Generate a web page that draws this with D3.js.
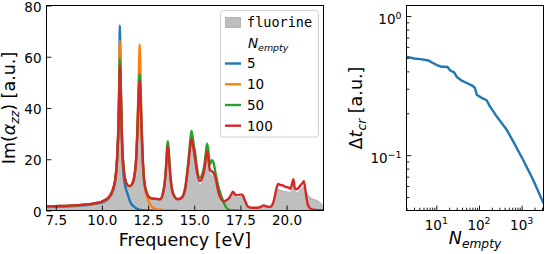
<!DOCTYPE html>
<html>
<head>
<meta charset="utf-8">
<script src="https://cdnjs.cloudflare.com/ajax/libs/d3/7.8.5/d3.min.js"></script>
<style>
  body { margin: 0; background: #fff; }
  svg { display: block; font-family: "DejaVu Sans", sans-serif; }
</style>
</head>
<body>
<div id="chart"></div>
<script>
// Frequency grid (eV) shared by the spectra
const freq = [
  7.0, 7.5, 8.0, 8.5, 9.0, 9.5, 9.8, 10.0, 10.2, 10.4,
  10.55, 10.65, 10.75, 10.83, 10.9, 10.94, 10.97, 11.0, 11.04, 11.1,
  11.18, 11.28, 11.4, 11.52, 11.65, 11.75, 11.85, 11.93, 11.99, 12.03,
  12.05, 12.08, 12.13, 12.2, 12.3, 12.45, 12.6, 12.8, 13.0, 13.15,
  13.3, 13.4, 13.47, 13.53, 13.57, 13.62, 13.7, 13.8, 13.95, 14.1,
  14.3, 14.5, 14.65, 14.75, 14.81, 14.85, 14.9, 14.97, 15.05, 15.15,
  15.3, 15.45, 15.57, 15.65, 15.7, 15.76, 15.85, 15.95, 16.05, 16.15,
  16.3, 16.45, 16.6, 16.75, 16.9, 17.0, 17.1, 17.2, 17.3, 17.45,
  17.6, 17.75, 17.9, 18.1, 18.4, 18.6, 18.75, 18.9, 19.1, 19.3,
  19.45, 19.55, 19.65, 19.8, 19.95, 20.1, 20.2, 20.3, 20.37, 20.45,
  20.55, 20.65, 20.75, 20.85, 20.93, 21.0, 21.08, 21.15, 21.25, 21.4,
  21.6, 21.8, 22.0
];

// Im(alpha_zz) reference spectrum (grey fill)
const fluorine = [
  1.5, 1.6, 1.7, 1.9, 2.2, 2.6, 3.0, 3.4, 4.1, 5.3,
  7.1, 9.3, 13.2, 20.5, 32, 44, 55.5, 52, 40, 24.5,
  15.5, 11.2, 9.5, 9.2, 10.2, 12.6, 19, 31, 43, 49,
  49.5, 46, 35, 21.5, 10.6, 6.2, 4.7, 4.3, 4.2, 4.1,
  6.1, 10, 15.5, 22, 24.2, 21, 13.4, 7.6, 4.9, 4.1,
  4.4, 7.3, 15, 21.5, 25.5, 26.3, 25, 22.3, 18.5, 13.5,
  10, 11.5, 15.5, 20, 21.6, 19, 14.3, 13.8, 13, 11.3,
  6.5, 3.8, 3.0, 3.2, 4.0, 5.0, 6.3, 5.6, 5.0, 5.3,
  5.4, 3.2, 1.2, 0.8, 0.8, 1.0, 1.7, 1.3, 1.2, 3.0,
  6.6, 8.3, 8.0, 7.6, 7.4, 7.2, 7.0, 8.5, 10.0, 7.8,
  6.8, 7.2, 8.3, 8.8, 9.2, 7.8, 6.8, 6.2, 5.3, 4.6,
  4.1, 3.2, 1.8
];

// N_empty = 5, 10, 50 end where they fall to zero
const n5 = [
  1.3, 1.4, 1.5, 1.7, 2.0, 2.4, 2.8, 3.1, 3.8, 5.0,
  6.8, 9.0, 13, 21, 35, 52, 72.2, 62, 42, 24,
  13.5, 9.0, 6.3, 3.6, 2.0, 1.5, 0.9, 0.6, 0.4, 0.3,
  0.3, 0.2, 0.2, 0.1, 0.1, 0, 0, 0, 0, 0
];
const n10 = [
  1.5, 1.6, 1.7, 1.9, 2.2, 2.6, 3.0, 3.4, 4.1, 5.3,
  7.2, 9.4, 13.3, 21, 34, 48, 66.3, 58, 42, 25,
  16, 11.5, 9.8, 9.5, 10.5, 13, 19.5, 34, 50, 62,
  64.8, 56, 38, 22, 10.5, 5.2, 2.6, 0.9, 0.4, 0.3,
  0.2, 0.1, 0.1, 0, 0, 0, 0, 0, 0, 0
];
const n50 = [
  1.6, 1.7, 1.8, 2.0, 2.3, 2.7, 3.1, 3.5, 4.2, 5.4,
  7.3, 9.5, 13.5, 21, 33, 46, 59.2, 54, 41, 25,
  16, 11.5, 9.8, 9.5, 10.5, 13, 19.5, 33, 46, 52.5,
  53.3, 49, 37, 22, 11, 6.5, 5.0, 4.6, 4.5, 4.4,
  6.6, 11, 17, 24.5, 27.0, 23.5, 14.5, 8.2, 5.3, 4.5,
  5.0, 8.5, 17, 24.5, 29, 31.0, 29.5, 25.8, 22.5, 16.5,
  12.8, 14.5, 19, 24, 26.1, 23.5, 18.0, 19.6, 18.5, 14.7,
  9.5, 6.0, 3.0, 1.0, 0.3, 0.1, 0, 0, 0, 0
];
const n100 = [
  1.6, 1.7, 1.8, 2.0, 2.3, 2.7, 3.1, 3.5, 4.2, 5.4,
  7.3, 9.5, 13.5, 21, 33, 45, 56.7, 53, 41, 25,
  16, 11.5, 9.8, 9.5, 10.5, 13, 19.5, 32, 44, 50,
  50.5, 47, 36, 22, 11, 6.5, 5.0, 4.6, 4.5, 4.4,
  6.5, 10.5, 16, 23, 25.1, 22, 14, 8, 5.2, 4.4,
  4.8, 8, 16, 23, 27, 27.8, 26.5, 23.8, 20, 15,
  11.4, 13, 17, 21.5, 23.1, 20.5, 15.8, 15.3, 14.6, 12.8,
  7.5, 4.5, 3.6, 4.0, 5.0, 6.2, 7.3, 6.4, 5.9, 6.2,
  6.2, 3.8, 1.6, 1.1, 1.1, 1.4, 2.0, 1.6, 1.4, 3.6,
  8.5, 10.4, 10.0, 9.8, 9.2, 9.0, 8.5, 10.5, 12.2, 8.6,
  8.3, 8.8, 9.8, 10.6, 11.4, 9.0, 5.0, 2.3, 1.0, 0.4,
  0.2, 0.1, 0.1
];

const nEmptyLabels = ["5", "10", "50", "100"];
const seriesColors = ["#1f77b4", "#ff7f0e", "#2ca02c", "#d62728"];
const freqTicks = [7.5, 10, 12.5, 15, 17.5, 20];
const imTicks = [0, 20, 40, 60, 80];

// Right panel: critical time step vs number of empty states
const nEmpty = [2, 3, 4.2, 6.6, 7.9, 10.4, 12.4, 18.3, 21.2, 26.2, 30.3, 39.6, 51.7, 71.3,
  80.7, 88.3, 115, 151, 180, 215, 258, 337, 441, 628, 1070, 1830, 3250];
const dtCr = [0.511, 0.495, 0.490, 0.479, 0.463, 0.444, 0.434, 0.430, 0.406, 0.393, 0.364,
  0.343, 0.330, 0.315, 0.303, 0.272, 0.258, 0.248, 0.224, 0.207, 0.190, 0.171, 0.153,
  0.126, 0.093, 0.067, 0.045];
const nMajor = [10, 100, 1000];
const nMinor = [2, 3, 4, 5, 6, 7, 8, 9, 20, 30, 40, 50, 60, 70, 80, 90,
  200, 300, 400, 500, 600, 700, 800, 900, 2000, 3000];
const dtMajor = [0.1, 1];
const dtMinor = [0.05, 0.06, 0.07, 0.08, 0.09, 0.2, 0.3, 0.4, 0.5, 0.6, 0.7, 0.8, 0.9];

const TICK = 13.5, LABEL = 17.5, LW = 2.4;
const svg = d3.select("#chart").append("svg").attr("width", 545).attr("height", 254);

function styleAxis(g) {
  g.select(".domain").remove();
  g.attr("font-size", TICK).attr("font-family", "DejaVu Sans");
  g.selectAll("line").attr("stroke", "#000").attr("stroke-width", 0.9);
  g.selectAll("text").attr("fill", "#000");
}

// ---------- left panel ----------
function drawSpectra() {
  const box = { x0: 46.5, x1: 323.5, y0: 5.5, y1: 210.5 };
  const x = d3.scaleLinear().domain([7, 22]).range([box.x0, box.x1]);
  const y = d3.scaleLinear().domain([0, 80]).range([box.y1, box.y0]);

  svg.append("clipPath").attr("id", "clipL").append("rect")
    .attr("x", box.x0).attr("y", box.y0)
    .attr("width", box.x1 - box.x0).attr("height", box.y1 - box.y0);
  const g = svg.append("g").attr("clip-path", "url(#clipL)");

  const area = d3.area()
    .x((d, i) => x(freq[i]))
    .y0(y(0))
    .y1(d => y(d))
    .curve(d3.curveMonotoneX);
  g.append("path").datum(fluorine)
    .attr("d", area)
    .attr("fill", "#bfbfbf")
    .attr("stroke", "#a9a9a9")
    .attr("stroke-width", 0.8);

  const line = d3.line()
    .x((d, i) => x(freq[i]))
    .y(d => y(d))
    .curve(d3.curveMonotoneX);
  [n5, n10, n50, n100].forEach((vals, k) => {
    g.append("path").datum(vals)
      .attr("d", line)
      .attr("fill", "none")
      .attr("stroke", seriesColors[k])
      .attr("stroke-width", LW)
      .attr("stroke-linejoin", "round");
  });

  svg.append("g")
    .attr("transform", `translate(0,${box.y1})`)
    .call(d3.axisBottom(x).tickValues(freqTicks).tickFormat(d3.format(".1f"))
      .tickSizeInner(-4.9).tickSizeOuter(0).tickPadding(5))
    .call(styleAxis);

  svg.append("g")
    .attr("transform", `translate(${box.x0},0)`)
    .call(d3.axisLeft(y).tickValues(imTicks)
      .tickSizeInner(-4.9).tickSizeOuter(0).tickPadding(5))
    .call(styleAxis)
    .selectAll("text").attr("dy", "0.42em");

  svg.append("rect")
    .attr("x", box.x0).attr("y", box.y0)
    .attr("width", box.x1 - box.x0).attr("height", box.y1 - box.y0)
    .attr("fill", "none").attr("stroke", "#000").attr("stroke-width", 1);

  // axis titles
  svg.append("text")
    .attr("x", (box.x0 + box.x1) / 2).attr("y", 246)
    .attr("text-anchor", "middle").attr("font-size", LABEL)
    .text("Frequency [eV]");

  const yl = svg.append("text")
    .attr("transform", `translate(15,${(box.y0 + box.y1) / 2}) rotate(-90)`)
    .attr("text-anchor", "middle").attr("font-size", LABEL);
  yl.append("tspan").text("Im(");
  yl.append("tspan").attr("font-style", "italic").text("α");
  yl.append("tspan").attr("font-style", "italic").attr("font-size", LABEL * 0.7)
    .attr("dy", 3.5).text("zz");
  yl.append("tspan").attr("dy", -3.5).text(") [a.u.]");

  // legend
  const lg = svg.append("g").attr("font-size", TICK);
  lg.append("rect")
    .attr("x", 220.5).attr("y", 10.5).attr("width", 98).attr("height", 126.5)
    .attr("rx", 3).attr("fill", "#fff").attr("fill-opacity", 0.8)
    .attr("stroke", "#d0d0d0").attr("stroke-width", 1);
  lg.append("rect")
    .attr("x", 225.5).attr("y", 17.5).attr("width", 15).attr("height", 10)
    .attr("fill", "#bfbfbf").attr("stroke", "#a9a9a9").attr("stroke-width", 0.8);
  lg.append("text")
    .attr("x", 247).attr("y", 22).attr("dy", "0.36em")
    .attr("font-family", "DejaVu Sans Mono")
    .text("fluorine");
  const nt = lg.append("text").attr("x", 248).attr("y", 48).attr("font-style", "italic");
  nt.append("tspan").text("N");
  nt.append("tspan").attr("font-size", TICK * 0.7).attr("dy", 2.5).text("empty");

  const rowY = [63.5, 84.3, 105, 125.7];
  nEmptyLabels.forEach((lab, k) => {
    lg.append("line")
      .attr("x1", 225).attr("x2", 241).attr("y1", rowY[k]).attr("y2", rowY[k])
      .attr("stroke", seriesColors[k]).attr("stroke-width", LW);
    lg.append("text")
      .attr("x", 247).attr("y", rowY[k]).attr("dy", "0.36em")
      .text(lab);
  });
}

// ---------- right panel ----------
function powLabel(sel, exp, size) {
  sel.append("tspan").text("10");
  sel.append("tspan").attr("font-size", size * 0.7).attr("dy", -5.5).text(exp);
}

function drawTimestep() {
  const box = { x0: 406.5, x1: 543.5, y0: 5.5, y1: 210.5 };
  const x = d3.scaleLog().domain([2, 3250]).range([box.x0, box.x1]);
  const y = d3.scaleLog().domain([0.04, 1.19]).range([box.y1, box.y0]);

  svg.append("clipPath").attr("id", "clipR").append("rect")
    .attr("x", box.x0).attr("y", box.y0)
    .attr("width", box.x1 - box.x0).attr("height", box.y1 - box.y0);

  svg.append("g").attr("clip-path", "url(#clipR)")
    .append("path").datum(nEmpty)
    .attr("d", d3.line().x(d => x(d)).y((d, i) => y(dtCr[i])))
    .attr("fill", "none").attr("stroke", "#1f77b4")
    .attr("stroke-width", LW).attr("stroke-linejoin", "round");

  // inward ticks
  const bt = (vals, len) => svg.append("g")
    .attr("transform", `translate(0,${box.y1})`)
    .call(d3.axisBottom(x).tickValues(vals).tickFormat("").tickSizeInner(-len).tickSizeOuter(0))
    .call(styleAxis);
  bt(nMinor, 2.8);
  bt(nMajor, 4.9);
  const lt = (vals, len) => svg.append("g")
    .attr("transform", `translate(${box.x0},0)`)
    .call(d3.axisLeft(y).tickValues(vals).tickFormat("").tickSizeInner(-len).tickSizeOuter(0))
    .call(styleAxis);
  lt(dtMinor, 2.8);
  lt(dtMajor, 4.9);

  nMajor.forEach(v => {
    const t = svg.append("text").attr("x", x(v)).attr("y", 229.5)
      .attr("text-anchor", "middle").attr("font-size", TICK);
    powLabel(t, String(Math.round(Math.log10(v))), TICK);
  });
  dtMajor.forEach(v => {
    const e = Math.round(Math.log10(v));
    const t = svg.append("text").attr("x", box.x0 - 5).attr("y", y(v) + 8)
      .attr("text-anchor", "end").attr("font-size", TICK);
    powLabel(t, e < 0 ? "\u2212" + (-e) : String(e), TICK);
  });

  svg.append("rect")
    .attr("x", box.x0).attr("y", box.y0)
    .attr("width", box.x1 - box.x0).attr("height", box.y1 - box.y0)
    .attr("fill", "none").attr("stroke", "#000").attr("stroke-width", 1);

  const xl = svg.append("text")
    .attr("x", (box.x0 + box.x1) / 2).attr("y", 244)
    .attr("text-anchor", "middle").attr("font-size", LABEL).attr("font-style", "italic");
  xl.append("tspan").text("N");
  xl.append("tspan").attr("font-size", LABEL * 0.7).attr("dy", 3.5).text("empty");

  const yl = svg.append("text")
    .attr("transform", `translate(362,${(box.y0 + box.y1) / 2}) rotate(-90)`)
    .attr("text-anchor", "middle").attr("font-size", LABEL);
  yl.append("tspan").text("Δ");
  yl.append("tspan").attr("font-style", "italic").text("t");
  yl.append("tspan").attr("font-style", "italic").attr("font-size", LABEL * 0.7)
    .attr("dy", 3.5).text("cr");
  yl.append("tspan").attr("dy", -3.5).text(" [a.u.]");
}

drawSpectra();
drawTimestep();
</script>
</body>
</html>
